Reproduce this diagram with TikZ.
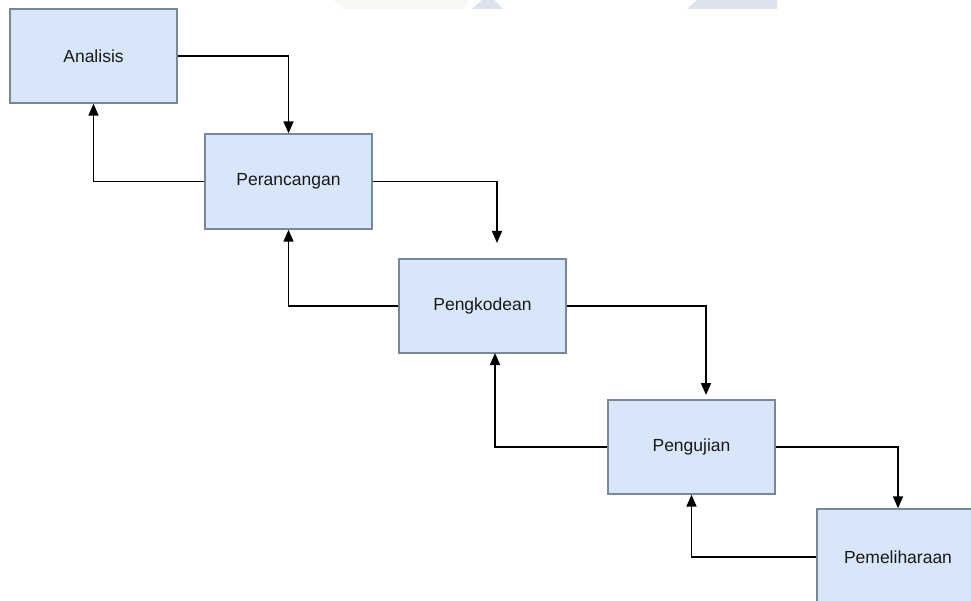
\documentclass[tikz,border=0pt]{standalone}
\usepackage{fontspec}
\setmainfont{Liberation Sans}
\usetikzlibrary{arrows.meta}
\definecolor{boxfill}{HTML}{D8E6FA}
\definecolor{boxline}{HTML}{7A8797}
\definecolor{marka}{HTML}{DCE3EF}
\definecolor{markb}{HTML}{F7F7F4}
\tikzset{
  stage/.style={draw=boxline, fill=boxfill, line width=1.4pt,
    minimum width=167pt, minimum height=94pt, inner sep=0pt,
    font=\fontsize{17.5}{20}\selectfont, text=black!90},
  flow/.style={draw=black, line width=1.7pt,
    -{Triangle[width=10pt,length=12pt]}}
}
\begin{document}
\begin{tikzpicture}[x=1pt,y=-1pt]
  \useasboundingbox (0,0) rectangle (971,601);
  \clip (0,0) rectangle (971,601);
  \fill[white] (0,0) rectangle (971,601);

  % faint logo shapes along the top edge
  \fill[markb] (333,0) -- (470,0) -- (462,9) -- (345,9) -- cycle;
  \fill[marka] (482,0) -- (494,0) -- (503,9) -- (472,9) -- cycle;
  \fill[marka] (697,0) -- (777,0) -- (777,9) -- (687,9) -- cycle;

  % process stages
  \node[stage] (an) at (93.5,56) {Analisis};
  \node[stage, minimum height=95pt] (pr) at (288.5,181.5) {Perancangan};
  \node[stage] (pk) at (482.5,306) {Pengkodean};
  \node[stage] (pu) at (691.5,447) {Pengujian};
  \node[stage, minimum width=162pt, minimum height=96pt] (pm) at (898,557) {Pemeliharaan};

  % free ends of the forward arrows that stop short of their box
  \coordinate (pkin) at (497,243);
  \coordinate (puin) at (706,395);
  \coordinate (pkback) at (495,353);

  % forward flow
  \draw[flow] (an.east) -| (pr.north);
  \draw[flow] (pr.east) -| (pkin);
  \draw[flow] (pk.east) -| (puin);
  \draw[flow] (pu.east) -| (pm.north);

  % feedback flow
  \draw[flow] (pr.west) -| (an.south);
  \draw[flow] (pk.west) -| (pr.south);
  \draw[flow] (pu.west) -| (pkback);
  \draw[flow] (pm.west) -| (pu.south);
\end{tikzpicture}
\end{document}
